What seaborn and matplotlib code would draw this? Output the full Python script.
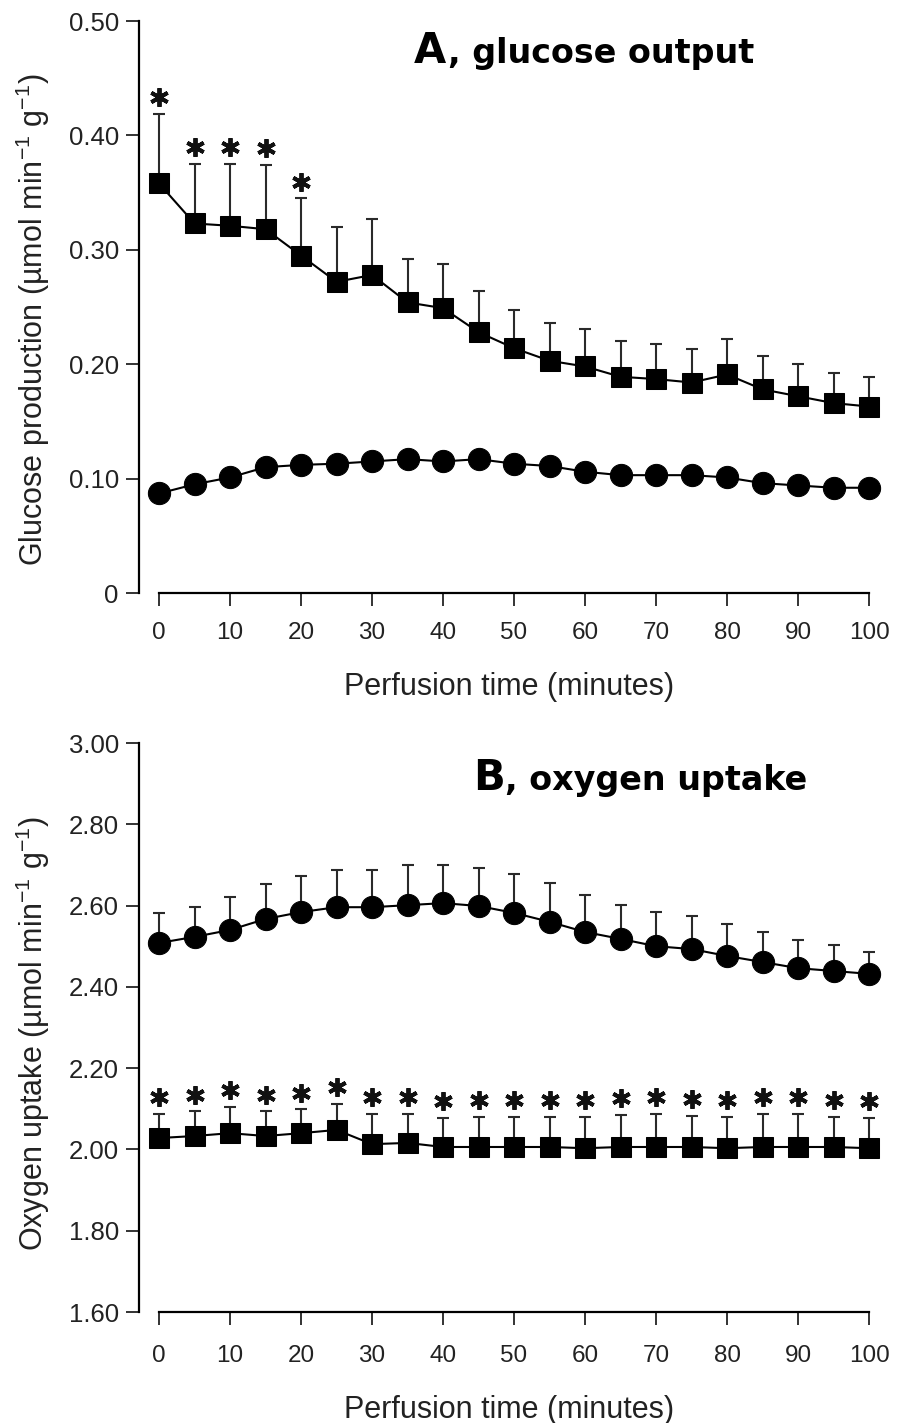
import numpy as np
import pandas as pd
import matplotlib
matplotlib.use("Agg")
import matplotlib.pyplot as plt
import matplotlib.transforms as mtransforms
import seaborn as sns

# ---------------- data ----------------
time_min = [0, 5, 10, 15, 20, 25, 30, 35, 40, 45, 50, 55, 60, 65, 70, 75, 80, 85, 90, 95, 100]

glucose_sq = [0.358, 0.323, 0.321, 0.318, 0.295, 0.272, 0.278, 0.254, 0.249, 0.228, 0.214,
              0.203, 0.198, 0.189, 0.187, 0.184, 0.191, 0.178, 0.172, 0.166, 0.163]
glucose_sq_sem = [0.061, 0.052, 0.054, 0.056, 0.050, 0.048, 0.049, 0.038, 0.039, 0.036, 0.033,
                  0.033, 0.033, 0.031, 0.031, 0.029, 0.031, 0.029, 0.028, 0.026, 0.026]
glucose_ci = [0.087, 0.095, 0.101, 0.110, 0.112, 0.113, 0.115, 0.117, 0.115, 0.117, 0.113,
              0.111, 0.106, 0.103, 0.103, 0.103, 0.101, 0.096, 0.094, 0.092, 0.092]
glucose_sig = [1, 1, 1, 1, 1, 0, 0, 0, 0, 0, 0, 0, 0, 0, 0, 0, 0, 0, 0, 0, 0]

oxygen_ci = [2.508, 2.523, 2.540, 2.567, 2.584, 2.596, 2.596, 2.601, 2.606, 2.599, 2.582,
             2.560, 2.535, 2.518, 2.500, 2.493, 2.476, 2.461, 2.446, 2.439, 2.432]
oxygen_ci_sem = [0.074, 0.073, 0.081, 0.086, 0.089, 0.091, 0.091, 0.099, 0.094, 0.093, 0.096,
                 0.096, 0.091, 0.083, 0.084, 0.081, 0.079, 0.074, 0.069, 0.064, 0.054]
oxygen_sq = [2.028, 2.033, 2.040, 2.033, 2.040, 2.048, 2.013, 2.016, 2.006, 2.006, 2.006,
             2.006, 2.003, 2.006, 2.006, 2.006, 2.003, 2.006, 2.006, 2.006, 2.003]
oxygen_sq_sem = [0.059, 0.061, 0.064, 0.061, 0.059, 0.064, 0.074, 0.071, 0.071, 0.074, 0.074,
                 0.074, 0.077, 0.079, 0.081, 0.076, 0.077, 0.081, 0.081, 0.074, 0.074]
oxygen_sig = [1] * 21

x_ticks = [0, 10, 20, 30, 40, 50, 60, 70, 80, 90, 100]
a_yticks = [0, 0.10, 0.20, 0.30, 0.40, 0.50]
a_yticklabels = ["0", "0.10", "0.20", "0.30", "0.40", "0.50"]
b_yticks = [1.60, 1.80, 2.00, 2.20, 2.40, 2.60, 2.80, 3.00]
b_yticklabels = ["1.60", "1.80", "2.00", "2.20", "2.40", "2.60", "2.80", "3.00"]

# ---------------- style ----------------
sns.set_theme(style="ticks")
plt.rcParams["font.family"] = ["Liberation Sans", "DejaVu Sans"]
plt.rcParams["mathtext.fontset"] = "custom"
plt.rcParams["mathtext.rm"] = "Liberation Sans"
plt.rcParams["mathtext.default"] = "regular"

W, H = 904, 1423
fig = plt.figure(figsize=(W / 100, H / 100), dpi=100)


def px_axes(left, right, top, bottom):
    return fig.add_axes([left / W, 1 - bottom / H, (right - left) / W, (bottom - top) / H])


axA = px_axes(139, 879, 21, 593)
axB = px_axes(139, 879, 743, 1312)

XL = (-2.82, 101.4)


def style_axis(ax, ylim, yticks, ylabels, ylabel, xpad, ylab_y):
    ax.set_xlim(*XL)
    ax.set_ylim(*ylim)
    ax.set_xticks(x_ticks)
    ax.set_xticklabels([str(v) for v in x_ticks])
    ax.set_yticks(yticks)
    ax.set_yticklabels(ylabels)
    for s in ["top", "right"]:
        ax.spines[s].set_visible(False)
    for s in ["left", "bottom"]:
        ax.spines[s].set_linewidth(1.6)
        ax.spines[s].set_color("black")
    ax.spines["bottom"].set_bounds(0, 100)
    ax.tick_params(axis="both", direction="out", length=9.5, width=1.4, color="#333333",
                   labelcolor="#222222")
    ax.tick_params(axis="y", pad=5, labelsize=18.5)
    ax.tick_params(axis="x", pad=xpad, labelsize=17.5)
    ax.set_xlabel("Perfusion time (minutes)", fontsize=22, labelpad=20, color="#222222")
    ax.set_ylabel(ylabel, fontsize=22, labelpad=12, color="#222222")
    ax.yaxis.label.set_y(ylab_y)
    ax.set_facecolor("white")


def draw_series(ax, y, sem, marker, ms, sig=None):
    df = pd.DataFrame({"t": time_min, "v": y})
    if sem is not None:
        ax.errorbar(time_min, y, yerr=[np.zeros(len(y)), sem], fmt="none",
                    ecolor="#2a2a2a", elinewidth=1.5, capsize=4.5, capthick=1.5, zorder=2)
    sns.lineplot(data=df, x="t", y="v", ax=ax, color="black", linewidth=1.5,
                 marker=marker, markersize=ms, markeredgecolor="black",
                 markerfacecolor="black", zorder=3, clip_on=False)
    if sig is not None:
        tops = np.array(y) + np.array(sem)
        xs = [t for t, s in zip(time_min, sig) if s]
        ys = [v for v, s in zip(tops, sig) if s]
        off = mtransforms.ScaledTranslation(0, 12 / 72, fig.dpi_scale_trans)
        ax.plot(xs, ys, linestyle="none", marker=(6, 2, 0), markersize=13.5,
                markeredgewidth=2.8, color="#111111", transform=ax.transData + off,
                clip_on=False, zorder=4)


style_axis(axA, (0, 0.5), a_yticks, a_yticklabels,
           "Glucose production (µmol min$^{-1}$ g$^{-1}$)", 11.5, 0.477)
draw_series(axA, glucose_ci, None, "o", 16)
draw_series(axA, glucose_sq, glucose_sq_sem, "s", 14.5, glucose_sig)

style_axis(axB, (1.6, 3.0), b_yticks, b_yticklabels,
           "Oxygen uptake (µmol min$^{-1}$ g$^{-1}$)", 14.5, 0.49)
draw_series(axB, oxygen_ci, oxygen_ci_sem, "o", 16)
draw_series(axB, oxygen_sq, oxygen_sq_sem, "s", 14.5, oxygen_sig)

# panel titles
fig.text(414 / W, 1 - 63 / H, "A", fontsize=30, fontweight="bold", color="black",
         family="DejaVu Sans", va="baseline", ha="left")
fig.text(448 / W, 1 - 63 / H, ", glucose output", fontsize=24, fontweight="bold",
         color="black", family="DejaVu Sans", va="baseline", ha="left")
fig.text(473 / W, 1 - 790 / H, "B", fontsize=30, fontweight="bold", color="black",
         family="DejaVu Sans", va="baseline", ha="left")
fig.text(505 / W, 1 - 790 / H, ", oxygen uptake", fontsize=24, fontweight="bold",
         color="black", family="DejaVu Sans", va="baseline", ha="left")

fig.savefig("out.png", dpi=100, facecolor="white")
